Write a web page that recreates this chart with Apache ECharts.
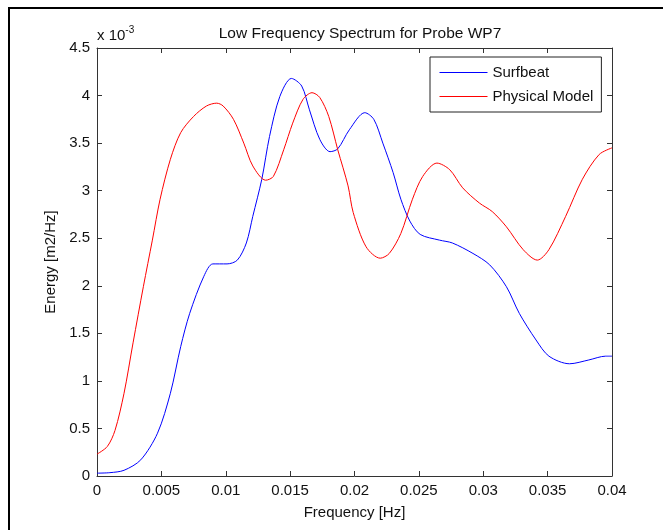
<!DOCTYPE html>
<html>
<head>
<meta charset="utf-8">
<script src="https://cdn.jsdelivr.net/npm/echarts@6/dist/echarts.min.js"></script>
<style>
  html, body { margin: 0; padding: 0; background: #fff; }
  #chart { width: 663px; height: 530px; }
</style>
</head>
<body>
<div id="chart"></div>
<script>
// energy in units of 1e-3 m2/Hz, as on the axis
const blueFreq = [0, 0.001, 0.0021, 0.0034, 0.0047, 0.0057, 0.0065, 0.0072, 0.0083, 0.0090, 0.0101, 0.0109, 0.0116, 0.0121, 0.0128, 0.0134, 0.0142, 0.0151, 0.0159, 0.0165, 0.0173, 0.0181, 0.0187, 0.0196, 0.0208, 0.0215, 0.0222, 0.0230, 0.0236, 0.0243, 0.0251, 0.0266, 0.0276, 0.0292, 0.0305, 0.0318, 0.0328, 0.0341, 0.0351, 0.0367, 0.0382, 0.0395, 0.0400]
const blueEnergy = [0.03, 0.035, 0.06, 0.17, 0.45, 0.87, 1.36, 1.71, 2.10, 2.23, 2.23, 2.27, 2.45, 2.73, 3.12, 3.57, 3.99, 4.18, 4.10, 3.85, 3.54, 3.41, 3.44, 3.64, 3.82, 3.75, 3.50, 3.19, 2.91, 2.68, 2.54, 2.48, 2.45, 2.34, 2.22, 1.99, 1.71, 1.43, 1.26, 1.18, 1.22, 1.26, 1.26]
const redFreq = [0, 0.0008, 0.0014, 0.0021, 0.0028, 0.0036, 0.0043, 0.0049, 0.0057, 0.0065, 0.0075, 0.0085, 0.0093, 0.0098, 0.0106, 0.0114, 0.0121, 0.0131, 0.0137, 0.0145, 0.0152, 0.0160, 0.0167, 0.0173, 0.0180, 0.0187, 0.0195, 0.0199, 0.0209, 0.0220, 0.0227, 0.0236, 0.0245, 0.0253, 0.0264, 0.0274, 0.0284, 0.0297, 0.0307, 0.0318, 0.0331, 0.0342, 0.0351, 0.0364, 0.0377, 0.0390, 0.0400]
const redEnergy = [0.23, 0.31, 0.48, 0.87, 1.40, 1.99, 2.48, 2.91, 3.33, 3.61, 3.78, 3.89, 3.92, 3.89, 3.75, 3.50, 3.26, 3.11, 3.15, 3.43, 3.71, 3.96, 4.03, 3.98, 3.78, 3.43, 3.05, 2.77, 2.41, 2.29, 2.34, 2.55, 2.91, 3.15, 3.29, 3.22, 3.03, 2.87, 2.78, 2.62, 2.38, 2.27, 2.38, 2.73, 3.12, 3.38, 3.45]

const seriesNames = ['Surfbeat', 'Physical Model']
const seriesColors = ['#0000ff', '#ff0000']
const xTicks = { min: 0, max: 0.04, step: 0.005 }
const yTicks = { min: 0, max: 4.5, step: 0.5 }

const font = 'Liberation Sans, Arial, sans-serif'
const axisColor = '#333'

function pairs(xs, ys) {
  return xs.map((x, i) => [x, ys[i]])
}

const chart = echarts.init(document.getElementById('chart'))

const baseAxis = {
  type: 'value',
  axisLine: { show: true, onZero: false, lineStyle: { color: axisColor, width: 1 } },
  axisTick: { show: true, inside: true, length: 5, lineStyle: { color: axisColor } },
  splitLine: { show: false },
  nameTextStyle: { fontFamily: font, fontSize: 15, color: '#111' }
}

chart.setOption({
  animation: false,
  title: {
    text: 'Low Frequency Spectrum for Probe WP7',
    left: 355,
    top: 21,
    textAlign: 'center',
    textStyle: { fontFamily: font, fontSize: 15.5, fontWeight: 'normal', color: '#111' }
  },
  grid: { left: 97, right: 51, top: 48, bottom: 54 },
  legend: {
    data: seriesNames,
    orient: 'vertical',
    left: 430,
    top: 57,
    padding: [8, 8, 8, 9],
    itemWidth: 48,
    itemHeight: 14,
    itemGap: 9,
    // hide the marker dot, keep the line sample
    itemStyle: { opacity: 0 },
    lineStyle: { width: 1 },
    borderColor: '#222',
    borderWidth: 1,
    backgroundColor: '#fff',
    textStyle: { fontFamily: font, fontSize: 15, color: '#111' }
  },
  xAxis: [
    Object.assign({}, baseAxis, {
      min: xTicks.min, max: xTicks.max, interval: xTicks.step,
      name: 'Frequency [Hz]',
      nameLocation: 'middle',
      nameGap: 29,
      axisLabel: {
        margin: 7,
        fontFamily: font, fontSize: 15, color: '#111',
        formatter: v => String(+v.toFixed(3))
      }
    }),
    Object.assign({}, baseAxis, {
      position: 'top',
      min: xTicks.min, max: xTicks.max, interval: xTicks.step,
      axisLabel: { show: false }
    })
  ],
  yAxis: [
    Object.assign({}, baseAxis, {
      min: yTicks.min, max: yTicks.max, interval: yTicks.step,
      name: 'Energy [m2/Hz]',
      nameLocation: 'middle',
      nameGap: 24,
      axisLabel: { margin: 7, fontFamily: font, fontSize: 15, color: '#111' }
    }),
    Object.assign({}, baseAxis, {
      position: 'right',
      min: yTicks.min, max: yTicks.max, interval: yTicks.step,
      axisLabel: { show: false }
    })
  ],
  graphic: [
    {
      type: 'text',
      left: 97,
      top: 25,
      style: {
        text: '{a|x 10}{b|-3}',
        rich: {
          a: { fontFamily: font, fontSize: 15, fill: '#111', verticalAlign: 'bottom' },
          b: { fontFamily: font, fontSize: 10, fill: '#111', verticalAlign: 'top', padding: [0, 0, 8, 0] }
        }
      }
    },
    // figure frame (top and left edges visible)
    { type: 'line', shape: { x1: 8, y1: 8, x2: 663, y2: 8 }, style: { stroke: '#000', lineWidth: 2 } },
    { type: 'line', shape: { x1: 9, y1: 8, x2: 9, y2: 530 }, style: { stroke: '#000', lineWidth: 2 } }
  ],
  series: seriesNames.map((name, i) => ({
    name,
    type: 'line',
    xAxisIndex: 0,
    yAxisIndex: 0,
    data: i === 0 ? pairs(blueFreq, blueEnergy) : pairs(redFreq, redEnergy),
    smooth: 0.3,
    symbol: 'none',
    lineStyle: { color: seriesColors[i], width: 1 },
    itemStyle: { color: seriesColors[i] }
  }))
})
</script>
</body>
</html>
